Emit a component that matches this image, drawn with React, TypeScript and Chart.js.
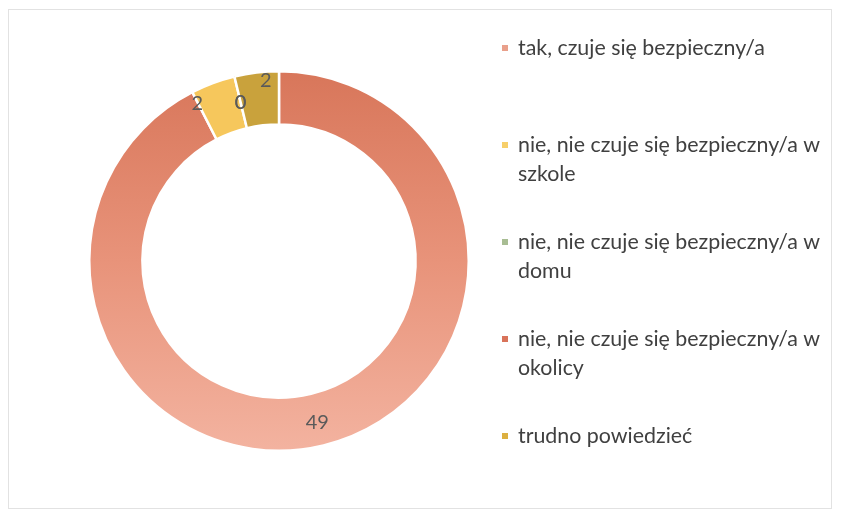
import React, { useEffect, useRef } from "react";
import { Chart, registerables } from "chart.js";

Chart.register(...registerables);

const categories = [
  "tak, czuje się bezpieczny/a",
  "nie, nie czuje się bezpieczny/a w szkole",
  "nie, nie czuje się bezpieczny/a w domu",
  "nie, nie czuje się bezpieczny/a w okolicy",
  "trudno powiedzieć",
];
const values = [49, 2, 0, 0, 2];
const sliceColors = ["#e48d72", "#f6c75c", "#a9bf91", "#d7714f", "#c9a23c"];
const legendColors = ["#e9a08b", "#f7cf6a", "#a8bd93", "#d9735a", "#dcb040"];

const FONT = "Lato, 'Open Sans', sans-serif";

const valueLabelsPlugin = {
  id: "valueLabels",
  afterDatasetsDraw(chart: any) {
    const ctx = chart.ctx;
    const meta = chart.getDatasetMeta(0);
    const nudges = [[0, 3], [-25, -4], [0, 0], [0, 0], [6, -18]];
    ctx.save();
    ctx.font = `20px ${FONT}`;
    ctx.fillStyle = "#5a5a5a";
    ctx.textAlign = "center";
    ctx.textBaseline = "middle";
    meta.data.forEach((arc: any, i: number) => {
      const p = arc.getCenterPoint();
      const n = nudges[i] || [0, 0];
      ctx.fillText(String(chart.data.datasets[0].data[i]), p.x + n[0], p.y + n[1]);
    });
    ctx.restore();
  },
};

const sideLegendPlugin = {
  id: "sideLegend",
  afterDraw(chart: any) {
    const ctx = chart.ctx;
    const labels: string[] = chart.data.labels;
    const markerX = 502;
    const textX = 518;
    const firstBaseline = 55;
    const itemStep = 97;
    const lineStep = 29;
    const maxWidth = 312;
    ctx.save();
    ctx.font = `20px ${FONT}`;
    const w = ctx.measureText(labels[0]).width;
    const size = (20 * 247) / w;
    ctx.font = `${size}px ${FONT}`;
    ctx.fillStyle = "#404040";
    ctx.textAlign = "left";
    ctx.textBaseline = "alphabetic";
    labels.forEach((label, i) => {
      const words = label.split(" ");
      const lines: string[] = [];
      let cur = "";
      words.forEach((word) => {
        const test = cur ? cur + " " + word : word;
        if (ctx.measureText(test).width > maxWidth && cur) {
          lines.push(cur);
          cur = word;
        } else {
          cur = test;
        }
      });
      if (cur) lines.push(cur);
      const base = firstBaseline + i * itemStep;
      ctx.fillStyle = legendColors[i];
      ctx.fillRect(markerX, base - 10, 6, 6);
      ctx.fillStyle = "#404040";
      lines.forEach((line, j) => {
        ctx.fillText(line, textX, base + j * lineStep);
      });
    });
    ctx.restore();
  },
};

export default function App() {
  const canvasRef = useRef<HTMLCanvasElement | null>(null);

  useEffect(() => {
    if (!canvasRef.current) return;
    const chart = new Chart(canvasRef.current, {
      type: "doughnut",
      data: {
        labels: categories,
        datasets: [
          {
            data: values,
            backgroundColor: (c: any) => {
              const i = c.dataIndex;
              if (i === 0) {
                const area = c.chart.chartArea;
                if (!area) return sliceColors[0];
                const g = c.chart.ctx.createLinearGradient(0, area.top, 0, area.bottom);
                g.addColorStop(0, "#d8765a");
                g.addColorStop(0.5, "#e8937a");
                g.addColorStop(1, "#f3b3a0");
                return g;
              }
              return sliceColors[i];
            },
            borderColor: "#ffffff",
            borderWidth: 2.5,
          },
        ],
      },
      options: {
        animation: false,
        responsive: false,
        maintainAspectRatio: false,
        cutout: "72%",
        layout: { padding: { left: 88, right: 371, top: 70, bottom: 63 } },
        plugins: {
          legend: { display: false },
          tooltip: { enabled: false },
        },
      },
      plugins: [valueLabelsPlugin, sideLegendPlugin],
    });
    return () => chart.destroy();
  }, []);

  return (
    <div style={{ position: "absolute", left: 0, top: 0, width: 841, height: 515, background: "#ffffff" }}>
      <div
        style={{
          position: "absolute",
          left: 8,
          top: 9,
          width: 824,
          height: 500,
          border: "1px solid #e2e2e2",
          boxSizing: "border-box",
        }}
      />
      <canvas ref={canvasRef} width={841} height={515} style={{ position: "absolute", left: 0, top: 0 }} />
    </div>
  );
}
